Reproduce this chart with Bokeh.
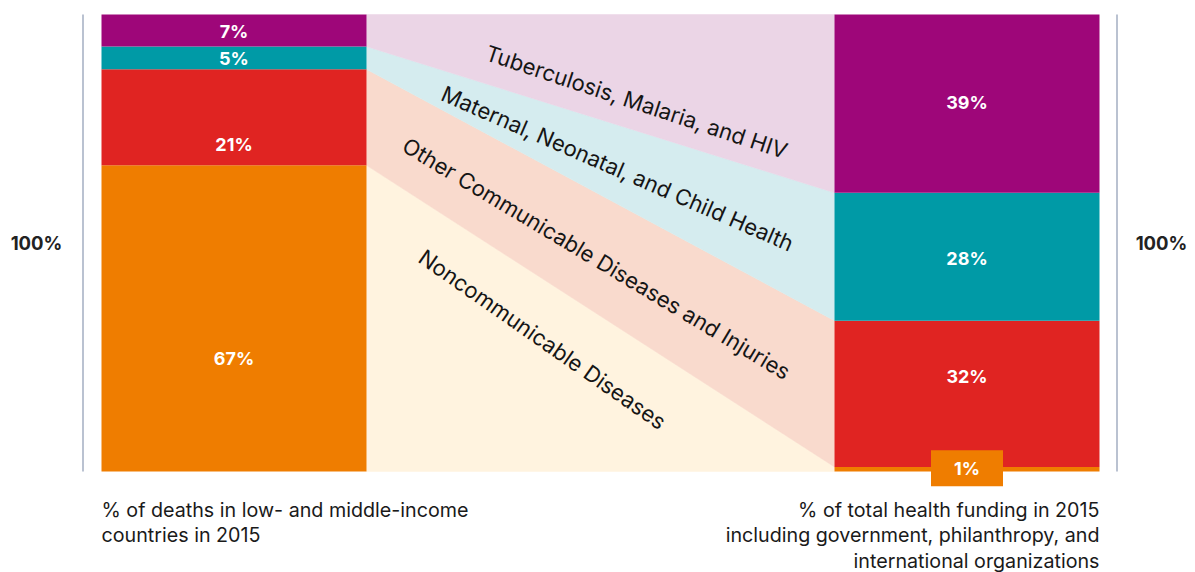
from bokeh.plotting import figure
from bokeh.models import Range1d
from bokeh.embed import file_html
from bokeh.resources import INLINE
from bokeh.core.properties import value
import numpy as np

# ---------------- data ----------------
categories = ["Noncommunicable Diseases",
              "Other Communicable Diseases and Injuries",
              "Maternal, Neonatal, and Child Health",
              "Tuberculosis, Malaria, and HIV"]
deaths = [67, 21, 5, 7]          # % of deaths (bottom -> top)
funding = [1, 32, 28, 39]        # % of health funding (bottom -> top)
pct_labels_left = ["67%", "21%", "5%", "7%"]
pct_labels_right = ["1%", "32%", "28%", "39%"]
left_caption = ["% of deaths in low- and middle-income", "countries in 2015"]
right_caption = ["% of total health funding in 2015",
                 "including government, philanthropy, and",
                 "international organizations"]

# ---------------- style ----------------
dark = ["#EF7D00", "#E02422", "#009AA6", "#9E0679"]
light = ["#FFF3DF", "#F9DACD", "#D5ECEF", "#EBD5E6"]
FONT = "Inter"

# layout (x in page pixels, y in percent)
LX0, LX1 = 101, 366
RX0, RX1 = 834, 1099
PX_PER_PCT = 4.57
W, H = 1195, 572
y_lo = -(H - 471) / PX_PER_PCT
y_hi = 100 + 14 / PX_PER_PCT

p = figure(width=W, height=H, x_range=Range1d(0, W), y_range=Range1d(y_lo, y_hi),
           output_backend="svg", toolbar_location=None, min_border=0,
           outline_line_color=None, background_fill_color="white")
p.axis.visible = False
p.xgrid.visible = False
p.ygrid.visible = False

ltop = np.cumsum(deaths)
lbot = ltop - np.array(deaths)
rtop = np.cumsum(funding)
rbot = rtop - np.array(funding)

# connecting bands
for i in range(4):
    p.patch([LX1, RX0, RX0, LX1], [lbot[i], rbot[i], rtop[i], ltop[i]],
            fill_color=light[i], line_color=light[i], line_width=0.5)

# bars
p.quad(left=LX0, right=LX1, bottom=lbot, top=ltop, fill_color=dark, line_color=None)
p.quad(left=RX0, right=RX1, bottom=rbot, top=rtop, fill_color=dark, line_color=None)

# vertical rules
p.segment(x0=[82.5, 1116.5], y0=[0, 0], x1=[82.5, 1116.5], y1=[100, 100],
          line_color="#A3AEC2", line_width=1.5)

# "100%" labels
p.text(x=[36, 1161], y=[50, 50], text=["100%", "100%"], text_font=value(FONT),
       text_font_size="18.5px", text_font_style="bold", text_color="#222222",
       text_align="center", text_baseline="middle")

# percent labels, left bar
left_label_y = [24.7, 71.6, 90.4, 96.3]
p.text(x=[(LX0 + LX1) / 2] * 4, y=left_label_y, text=pct_labels_left, text_font=value(FONT),
       text_font_size="18px", text_font_style="bold", text_color="white",
       text_align="center", text_baseline="middle")

# percent labels, right bar (1% in a box under the bar)
right_label_y = [0.7, 20.8, 46.6, 80.7]
p.rect(x=[(RX0 + RX1) / 2], y=[right_label_y[0]], width=72, height=36,
       height_units="screen", fill_color=dark[0], line_color=None)
p.text(x=[(RX0 + RX1) / 2] * 4, y=right_label_y, text=pct_labels_right, text_font=value(FONT),
       text_font_size="18px", text_font_style="bold", text_color="white",
       text_align="center", text_baseline="middle")

# band labels
band_x = [542, 596, 617, 636]
band_y = [28.9, 46.6, 66.3, 80.9]
band_angle = [-0.61, -0.54, -0.41, -0.32]
p.text(x=band_x, y=band_y, text=categories, angle=band_angle, text_font=value(FONT),
       text_font_size="22px", text_color="#151515",
       text_align="center", text_baseline="middle")

# captions
p.text(x=[LX0] * 2, y=[-8.5, -14.0], text=left_caption, text_font=value(FONT),
       text_font_size="19.7px", text_color="#1a1a1a", text_align="left", text_baseline="middle")
p.text(x=[RX1] * 3, y=[-8.5, -14.0, -19.6], text=right_caption, text_font=value(FONT),
       text_font_size="19.7px", text_color="#1a1a1a", text_align="right", text_baseline="middle")

open("out.html", "w").write(file_html(p, INLINE))
